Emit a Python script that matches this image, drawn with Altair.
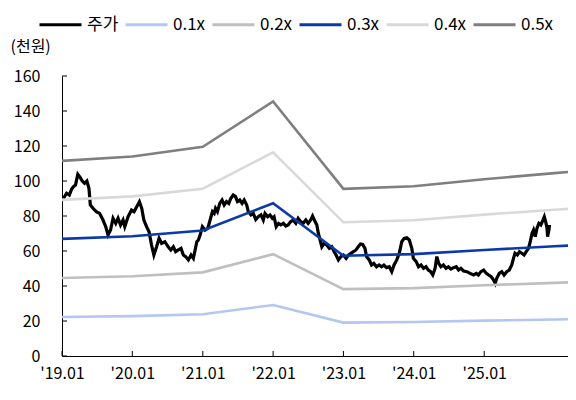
import altair as alt
import pandas as pd

FONT = "Noto Sans CJK KR"

series_names = ["주가", "0.1x", "0.2x", "0.3x", "0.4x", "0.5x"]
series_colors = ["#000000", "#B4C7F2", "#BFBFBF", "#0B3AA8", "#D9D9D9", "#7F7F7F"]

price_dates = [
    "2019-01-08", "2019-01-25", "2019-02-08", "2019-02-20", "2019-03-02", "2019-03-12", "2019-03-24",
    "2019-04-06", "2019-04-16", "2019-04-28", "2019-05-10", "2019-05-21", "2019-05-28", "2019-06-11",
    "2019-06-28", "2019-07-15", "2019-08-02", "2019-08-16", "2019-08-28", "2019-09-10", "2019-09-23",
    "2019-10-07", "2019-10-19", "2019-11-01", "2019-11-14", "2019-11-23", "2019-12-10", "2019-12-28",
    "2020-01-10", "2020-01-24", "2020-02-07", "2020-02-19", "2020-03-01", "2020-03-15", "2020-03-28",
    "2020-04-10", "2020-04-22", "2020-05-06", "2020-05-19", "2020-06-01", "2020-06-18", "2020-07-05",
    "2020-07-19", "2020-08-01", "2020-08-13", "2020-08-27", "2020-09-10", "2020-09-22", "2020-10-04",
    "2020-10-18", "2020-11-01", "2020-11-13", "2020-11-22", "2020-12-01", "2020-12-09", "2020-12-18",
    "2020-12-30", "2021-01-13", "2021-01-27", "2021-02-08", "2021-02-20", "2021-03-01", "2021-03-08",
    "2021-03-18", "2021-03-30", "2021-04-11", "2021-04-22", "2021-05-04", "2021-05-16", "2021-05-26",
    "2021-06-08", "2021-06-20", "2021-06-30", "2021-07-12", "2021-07-24", "2021-08-04", "2021-08-17",
    "2021-08-25", "2021-09-08", "2021-09-20", "2021-10-03", "2021-10-16", "2021-10-30", "2021-11-11",
    "2021-11-20", "2021-12-04", "2021-12-16", "2021-12-28", "2022-01-06", "2022-01-17", "2022-01-29",
    "2022-02-10", "2022-02-24", "2022-03-08", "2022-03-20", "2022-04-02", "2022-04-15", "2022-04-29",
    "2022-05-11", "2022-05-24", "2022-06-06", "2022-06-20", "2022-07-02", "2022-07-15", "2022-07-25",
    "2022-08-07", "2022-08-16", "2022-08-24", "2022-09-02", "2022-09-11", "2022-09-23", "2022-10-07",
    "2022-10-20", "2022-11-02", "2022-11-14", "2022-11-24", "2022-12-06", "2022-12-19", "2023-01-01",
    "2023-01-15", "2023-01-27", "2023-02-09", "2023-02-22", "2023-03-07", "2023-03-19", "2023-03-31",
    "2023-04-11", "2023-04-23", "2023-05-01", "2023-05-15", "2023-05-27", "2023-06-08", "2023-06-22",
    "2023-07-05", "2023-07-18", "2023-07-30", "2023-08-13", "2023-08-27", "2023-09-09", "2023-09-21",
    "2023-10-05", "2023-10-18", "2023-10-31", "2023-11-12", "2023-11-26", "2023-12-09", "2023-12-22",
    "2023-12-30", "2024-01-14", "2024-01-26", "2024-02-08", "2024-02-21", "2024-03-05", "2024-03-17",
    "2024-03-29", "2024-04-09", "2024-04-21", "2024-04-30", "2024-05-10", "2024-05-21", "2024-06-03",
    "2024-06-17", "2024-06-29", "2024-07-12", "2024-07-26", "2024-08-09", "2024-08-21", "2024-09-02",
    "2024-09-16", "2024-10-03", "2024-10-20", "2024-11-07", "2024-11-21", "2024-12-02", "2024-12-15",
    "2024-12-29", "2025-01-12", "2025-01-24", "2025-02-06", "2025-02-19", "2025-02-27", "2025-03-07",
    "2025-03-20", "2025-04-02", "2025-04-14", "2025-04-28", "2025-05-11", "2025-05-24", "2025-06-02",
    "2025-06-10", "2025-06-22", "2025-07-03", "2025-07-15", "2025-07-27", "2025-08-07", "2025-08-19",
    "2025-08-28", "2025-09-06", "2025-09-14", "2025-09-23", "2025-10-02", "2025-10-12", "2025-10-22",
    "2025-11-02", "2025-11-09", "2025-11-16", "2025-11-23", "2025-11-26", "2025-12-03", "2025-12-06",
]
price_values = [
    90.0, 93.0, 92.0, 95.4, 96.8, 97.7, 103.8,
    101.9, 100.0, 98.7, 100.0, 95.8, 86.3, 84.4,
    82.5, 81.5, 77.7, 73.9, 69.1, 72.0, 78.7,
    75.8, 78.7, 74.9, 77.7, 73.9, 79.6, 83.4,
    82.5, 85.3, 88.2, 84.4, 77.7, 73.9, 71.0,
    63.4, 57.7, 62.4, 67.2, 64.4, 65.3, 62.4,
    60.6, 62.4, 59.6, 60.6, 61.5, 57.7, 56.8,
    54.9, 57.7, 55.8, 60.6, 65.3, 66.3, 69.1,
    73.9, 72.0, 73.0, 77.7, 82.5, 81.5, 84.4,
    82.5, 87.2, 89.1, 86.3, 88.2, 87.2, 90.0,
    92.0, 91.1, 88.2, 89.1, 87.2, 89.1, 86.3,
    82.5, 80.6, 81.5, 78.0, 79.6, 80.6, 77.7,
    81.5, 79.6, 80.6, 78.7, 79.6, 73.9, 75.8,
    74.9, 75.8, 74.3, 74.9, 76.8, 77.7, 75.8,
    78.7, 76.8, 75.8, 77.7, 75.8, 77.7, 80.0,
    76.8, 74.9, 70.0, 66.3, 62.4, 64.4, 63.4,
    61.5, 62.4, 59.6, 57.7, 54.9, 56.8, 57.7,
    55.8, 57.7, 58.7, 59.6, 60.6, 62.4, 64.0,
    63.8, 61.5, 56.8, 54.9, 52.0, 52.9, 51.0,
    52.0, 51.0, 52.0, 50.5, 51.0, 48.2, 52.0,
    54.9, 58.7, 65.3, 67.2, 67.6, 66.3, 61.5,
    55.8, 53.9, 51.0, 52.0, 50.1, 51.0, 49.1,
    48.2, 46.3, 50.1, 56.8, 52.9, 51.0, 52.0,
    50.1, 51.0, 49.7, 50.5, 51.0, 49.1, 50.1,
    48.6, 48.2, 47.2, 46.3, 47.2, 46.3, 48.2,
    49.1, 47.2, 46.3, 45.3, 43.4, 41.5, 44.4,
    47.2, 48.2, 46.3, 48.2, 49.1, 52.0, 55.8,
    58.7, 57.7, 59.6, 58.7, 57.7, 59.6, 61.5,
    65.3, 70.0, 72.0, 68.2, 73.0, 75.8, 74.9,
    77.7, 79.6, 76.8, 73.0, 68.2, 72.0, 74.9,
]

band_dates = ["2019-01-01", "2020-01-01", "2021-01-01", "2022-01-01", "2023-01-01",
              "2024-01-01", "2025-01-01", "2026-01-01", "2026-04-23"]
band_01 = [22.3, 22.8, 23.9, 29.1, 19.1, 19.4, 20.2, 20.9, 21.1]
band_02 = [44.6, 45.6, 47.8, 58.2, 38.2, 38.8, 40.4, 41.8, 42.2]
band_03 = [66.9, 68.4, 71.7, 87.3, 57.3, 58.2, 60.6, 62.7, 63.3]
band_04 = [89.2, 91.2, 95.6, 116.4, 76.4, 77.6, 80.8, 83.6, 84.4]
band_05 = [111.5, 114.0, 119.5, 145.5, 95.5, 97.0, 101.0, 104.5, 105.5]

y_ticks = [0, 20, 40, 60, 80, 100, 120, 140, 160]
x_tick_years = [2019, 2020, 2021, 2022, 2023, 2024, 2025]

W, H = 506, 280

price_df = pd.DataFrame({"date": price_dates, "value": price_values, "series": "주가"})
band_frames = []
for name, vals in zip(series_names[1:], [band_01, band_02, band_03, band_04, band_05]):
    band_frames.append(pd.DataFrame({"date": band_dates, "value": vals, "series": name}))
band_df = pd.concat(band_frames, ignore_index=True)
xtick_df = pd.DataFrame({"date": [f"{y}-01-01" for y in x_tick_years]})
ytick_df = pd.DataFrame({"value": y_ticks})

x_enc = alt.X(
    "date:T",
    scale=alt.Scale(domain=[alt.DateTime(year=2019, month=1, date=1),
                            alt.DateTime(year=2026, month=3, date=12)]),
    axis=alt.Axis(
        values=[alt.DateTime(year=y, month=1, date=1) for y in x_tick_years],
        labelExpr="\"'\" + timeFormat(datum.value, '%y.%m')",
        ticks=False, grid=False, domainColor="#000000", domainWidth=1,
        labelFont=FONT, labelFontSize=16, labelColor="#000000", labelPadding=9,
        labelAlign="center", title=None,
    ),
)
y_enc = alt.Y(
    "value:Q",
    scale=alt.Scale(domain=[0, 160], nice=False, zero=True),
    axis=alt.Axis(
        values=y_ticks, ticks=False, grid=False, domainColor="#000000", domainWidth=1,
        labelFont=FONT, labelFontSize=16, labelColor="#000000", labelPadding=22,
        title="(천원)", titleAngle=0, titleAlign="left", titleBaseline="top",
        titleX=-52, titleY=-38, titleFont=FONT, titleFontSize=16,
        titleFontWeight="normal", titleColor="#000000",
    ),
)
color_enc = alt.Color(
    "series:N",
    scale=alt.Scale(domain=series_names, range=series_colors),
    legend=alt.Legend(
        title=None, orient="none", legendX=-24, legendY=-74, direction="horizontal",
        symbolType="stroke", symbolSize=1764, symbolStrokeWidth=3,
        labelFont=FONT, labelFontSize=17, labelColor="#000000", labelOffset=4,
        columnPadding=0, padding=0,
    ),
)

price_layer = alt.Chart(price_df).mark_line(strokeWidth=3.2, clip=True).encode(
    x=x_enc, y=y_enc, color=color_enc
)
band_layer = alt.Chart(band_df).mark_line(strokeWidth=2.6, clip=True).encode(
    x=x_enc, y=y_enc, color=color_enc
)
xtick_layer = alt.Chart(xtick_df).mark_rule(color="#000000", strokeWidth=1).encode(
    x=x_enc, y=alt.value(H - 5), y2=alt.value(H)
)
ytick_layer = alt.Chart(ytick_df).mark_rule(color="#000000", strokeWidth=1).encode(
    y=y_enc, x=alt.value(0), x2=alt.value(5)
)

chart = alt.layer(price_layer, band_layer, xtick_layer, ytick_layer).properties(
    width=W, height=H,
    autosize=alt.AutoSizeParams(type="none"),
    padding={"left": 54, "top": 68, "right": 0, "bottom": 32},
    background="#ffffff",
).configure_view(stroke=None)

chart.save("out.html", embed_options={"renderer": "svg", "actions": False})
